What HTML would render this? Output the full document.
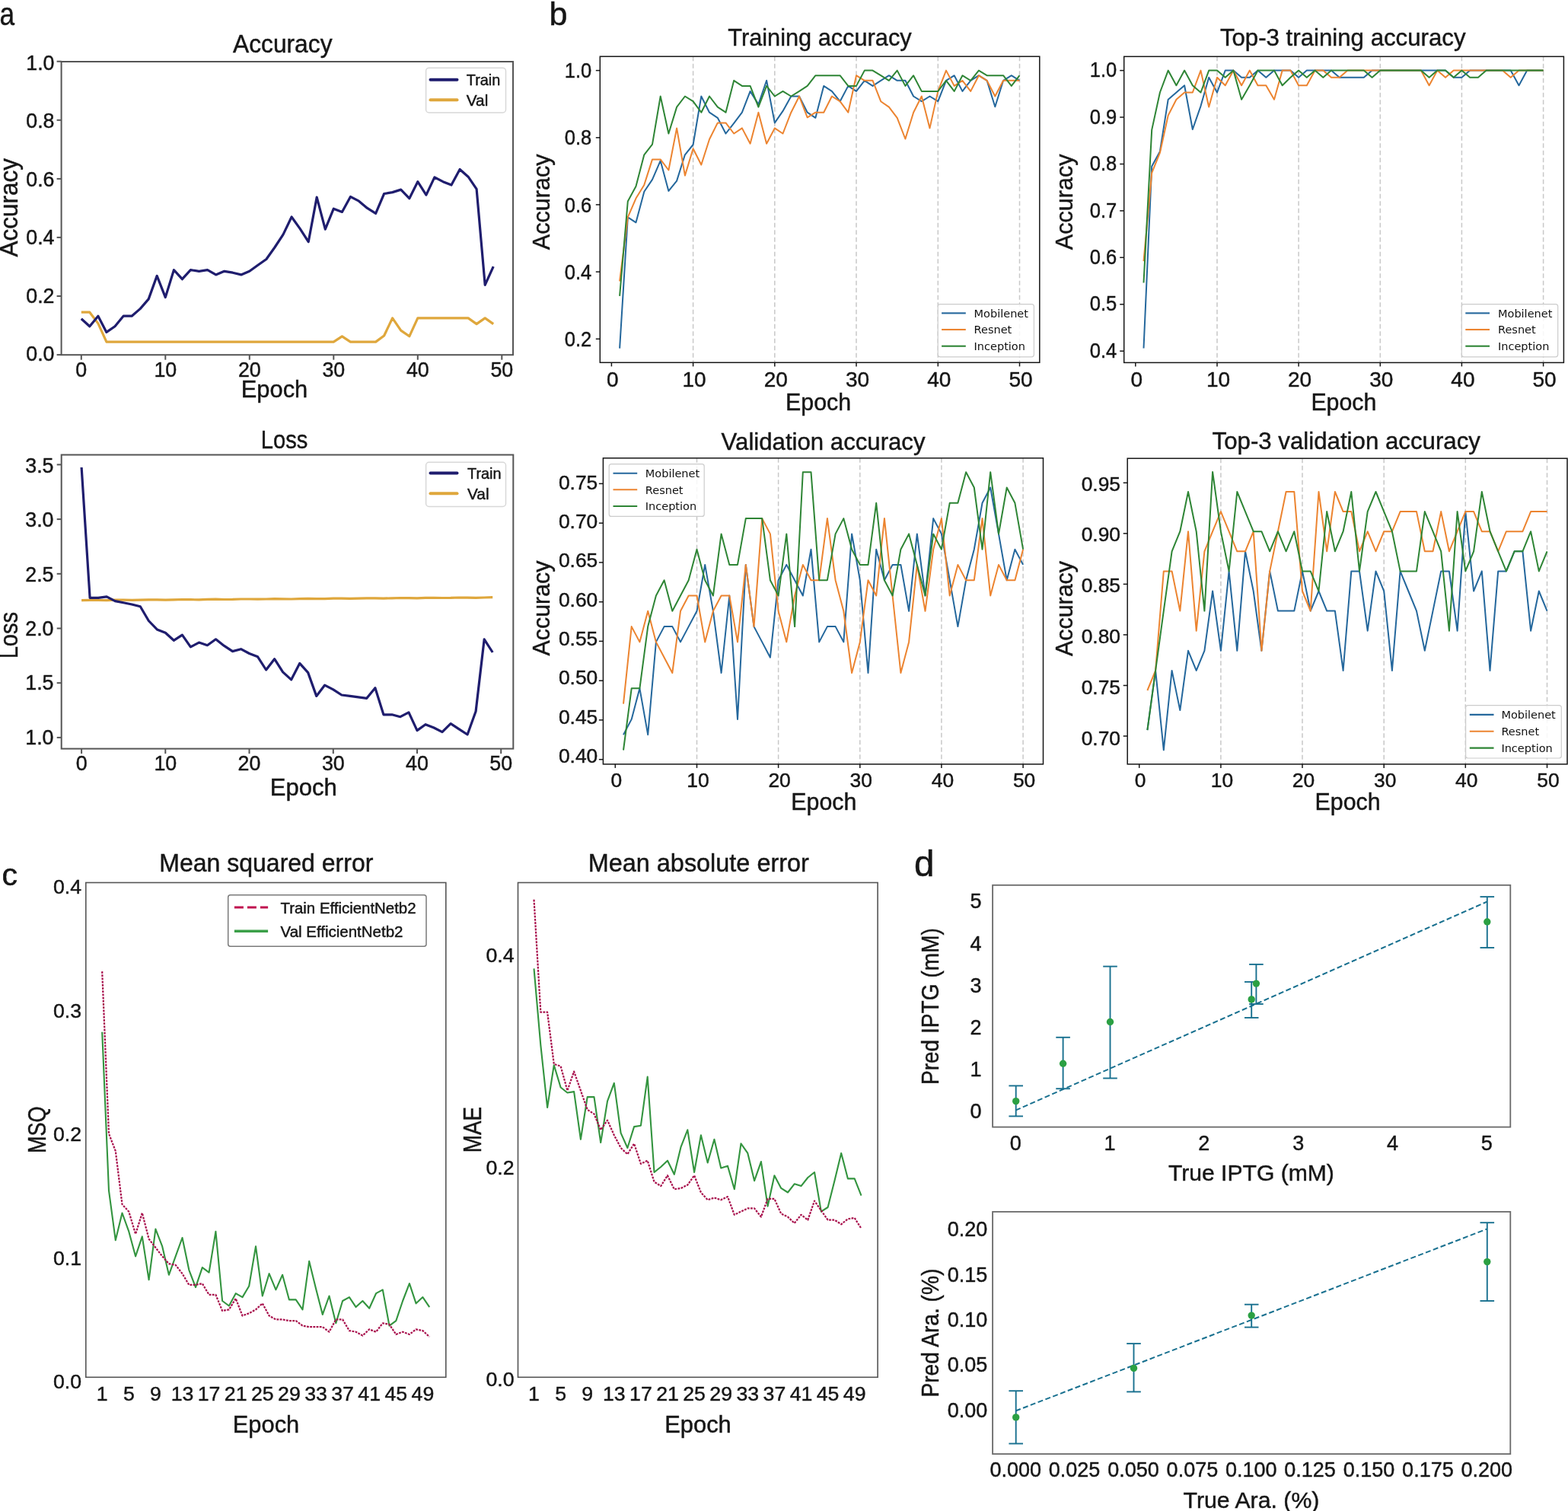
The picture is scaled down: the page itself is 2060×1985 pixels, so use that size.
<!DOCTYPE html>
<html><head><meta charset="utf-8"><title>Figure</title>
<style>html,body{margin:0;padding:0;background:#fff;overflow:hidden;} svg{display:block;}</style>
</head><body>
<svg width="2060" height="1985" viewBox="0 0 2060 1985" font-family="'Liberation Sans', Arial, sans-serif">
<rect width="2060" height="1985" fill="#fff"/>
<text x="-0.5" y="32.9" font-size="43.00" text-anchor="start" fill="#161616" stroke="#161616" stroke-width="0.45" textLength="19.6" lengthAdjust="spacingAndGlyphs">a</text>
<polyline points="106.8,410.2 117.8,410.2 128.9,424.9 139.9,449.1 151.0,449.1 162.1,449.1 173.1,449.1 184.2,449.1 195.2,449.1 206.2,449.1 217.3,449.1 228.4,449.1 239.4,449.1 250.4,449.1 261.5,449.1 272.6,449.1 283.6,449.1 294.7,449.1 305.7,449.1 316.8,449.1 327.8,449.1 338.9,449.1 349.9,449.1 360.9,449.1 372.0,449.1 383.1,449.1 394.1,449.1 405.2,449.1 416.2,449.1 427.3,449.1 438.3,449.1 449.4,441.8 460.4,449.1 471.5,449.1 482.5,449.1 493.6,449.1 504.6,441.0 515.6,417.9 526.7,434.1 537.8,441.8 548.8,417.9 559.9,417.9 570.9,417.9 582.0,417.9 593.0,417.9 604.1,417.9 615.1,417.9 626.1,425.6 637.2,417.9 648.2,425.6" fill="none" stroke="#dfa73c" stroke-width="3.2" stroke-linejoin="round" stroke-linecap="butt"/>
<polyline points="106.8,418.7 117.8,428.7 128.9,415.2 139.9,436.4 151.0,428.7 162.1,415.2 173.1,415.2 184.2,405.6 195.2,392.9 206.2,362.4 217.3,390.6 228.4,354.7 239.4,366.7 250.4,354.7 261.5,356.3 272.6,354.7 283.6,360.9 294.7,356.3 305.7,358.2 316.8,360.9 327.8,356.3 338.9,348.2 349.9,340.5 360.9,325.0 372.0,308.1 383.1,285.0 394.1,300.4 405.2,317.7 416.2,259.1 427.3,301.1 438.3,274.2 449.4,278.4 460.4,258.4 471.5,264.2 482.5,273.4 493.6,280.3 504.6,254.5 515.6,252.6 526.7,249.1 537.8,260.7 548.8,238.7 559.9,256.1 570.9,232.9 582.0,238.7 593.0,243.0 604.1,222.5 615.1,232.2 626.1,248.3 637.2,374.4 648.2,350.1" fill="none" stroke="#1f1d6e" stroke-width="3.2" stroke-linejoin="round" stroke-linecap="butt"/>
<rect x="80.6" y="81.0" width="593.4" height="385.2" fill="none" stroke="#555555" stroke-width="2"/>
<line x1="106.8" y1="466.2" x2="106.8" y2="472.7" stroke="#555555" stroke-width="2"/>
<line x1="217.3" y1="466.2" x2="217.3" y2="472.7" stroke="#555555" stroke-width="2"/>
<line x1="327.8" y1="466.2" x2="327.8" y2="472.7" stroke="#555555" stroke-width="2"/>
<line x1="438.3" y1="466.2" x2="438.3" y2="472.7" stroke="#555555" stroke-width="2"/>
<line x1="548.8" y1="466.2" x2="548.8" y2="472.7" stroke="#555555" stroke-width="2"/>
<line x1="659.3" y1="466.2" x2="659.3" y2="472.7" stroke="#555555" stroke-width="2"/>
<line x1="74.6" y1="466.1" x2="80.6" y2="466.1" stroke="#555555" stroke-width="2"/>
<line x1="74.6" y1="389.0" x2="80.6" y2="389.0" stroke="#555555" stroke-width="2"/>
<line x1="74.6" y1="311.9" x2="80.6" y2="311.9" stroke="#555555" stroke-width="2"/>
<line x1="74.6" y1="234.9" x2="80.6" y2="234.9" stroke="#555555" stroke-width="2"/>
<line x1="74.6" y1="157.8" x2="80.6" y2="157.8" stroke="#555555" stroke-width="2"/>
<line x1="74.6" y1="80.7" x2="80.6" y2="80.7" stroke="#555555" stroke-width="2"/>
<text x="106.8" y="494.6" font-size="26.80" text-anchor="middle" fill="#161616" stroke="#161616" stroke-width="0.45">0</text>
<text x="217.3" y="494.6" font-size="26.80" text-anchor="middle" fill="#161616" stroke="#161616" stroke-width="0.45">10</text>
<text x="327.8" y="494.6" font-size="26.80" text-anchor="middle" fill="#161616" stroke="#161616" stroke-width="0.45">20</text>
<text x="438.3" y="494.6" font-size="26.80" text-anchor="middle" fill="#161616" stroke="#161616" stroke-width="0.45">30</text>
<text x="548.8" y="494.6" font-size="26.80" text-anchor="middle" fill="#161616" stroke="#161616" stroke-width="0.45">40</text>
<text x="659.3" y="494.6" font-size="26.80" text-anchor="middle" fill="#161616" stroke="#161616" stroke-width="0.45">50</text>
<text x="71.5" y="474.0" font-size="26.80" text-anchor="end" fill="#161616" stroke="#161616" stroke-width="0.45">0.0</text>
<text x="71.5" y="397.6" font-size="26.80" text-anchor="end" fill="#161616" stroke="#161616" stroke-width="0.45">0.2</text>
<text x="71.5" y="321.2" font-size="26.80" text-anchor="end" fill="#161616" stroke="#161616" stroke-width="0.45">0.4</text>
<text x="71.5" y="244.8" font-size="26.80" text-anchor="end" fill="#161616" stroke="#161616" stroke-width="0.45">0.6</text>
<text x="71.5" y="168.4" font-size="26.80" text-anchor="end" fill="#161616" stroke="#161616" stroke-width="0.45">0.8</text>
<text x="71.5" y="92.0" font-size="26.80" text-anchor="end" fill="#161616" stroke="#161616" stroke-width="0.45">1.0</text>
<text x="306.0" y="69.0" font-size="32.50" text-anchor="start" fill="#161616" stroke="#161616" stroke-width="0.45" textLength="130.5" lengthAdjust="spacingAndGlyphs">Accuracy</text>
<text x="22.9" y="272.7" font-size="32.50" text-anchor="middle" fill="#161616" stroke="#161616" stroke-width="0.45" textLength="129.5" lengthAdjust="spacingAndGlyphs" transform="rotate(-90 22.9 272.7)">Accuracy</text>
<text x="360.5" y="522.1" font-size="31.00" text-anchor="middle" fill="#161616" stroke="#161616" stroke-width="0.45" textLength="87.5" lengthAdjust="spacingAndGlyphs">Epoch</text>
<rect x="559.6" y="89.2" width="104.9" height="58.8" rx="4" fill="#fff" fill-opacity="0.85" stroke="#d8d8d8" stroke-width="1.5"/>
<line x1="565.5" y1="104.7" x2="600.5" y2="104.7" stroke="#1f1d6e" stroke-width="4" stroke-linecap="round"/>
<line x1="565.5" y1="131.2" x2="600.5" y2="131.2" stroke="#dfa73c" stroke-width="4" stroke-linecap="round"/>
<text x="612.8" y="112.0" font-size="20.30" text-anchor="start" fill="#161616" stroke="#161616" stroke-width="0.45" textLength="44.5" lengthAdjust="spacingAndGlyphs">Train</text>
<text x="612.8" y="138.8" font-size="20.30" text-anchor="start" fill="#161616" stroke="#161616" stroke-width="0.45" textLength="28.5" lengthAdjust="spacingAndGlyphs">Val</text>
<polyline points="107.1,788.6 118.1,788.4 129.1,788.5 140.2,788.6 151.2,788.2 162.2,788.1 173.2,788.3 184.3,788.2 195.3,787.9 206.3,787.9 217.3,788.1 228.3,787.8 239.4,787.5 250.4,787.7 261.4,787.8 272.4,787.4 283.5,787.2 294.5,787.5 305.5,787.4 316.5,787.0 327.5,787.0 338.6,787.2 349.6,787.0 360.6,786.7 371.6,786.8 382.6,787.0 393.7,786.6 404.7,786.4 415.7,786.6 426.7,786.6 437.8,786.2 448.8,786.1 459.8,786.4 470.8,786.2 481.8,785.9 492.9,785.9 503.9,786.1 514.9,785.8 525.9,785.5 537.0,785.7 548.0,785.8 559.0,785.4 570.0,785.3 581.0,785.5 592.1,785.4 603.1,785.0 614.1,785.1 625.1,785.3 636.2,785.0 647.2,784.7" fill="none" stroke="#dfa73c" stroke-width="3.2" stroke-linejoin="round" stroke-linecap="butt"/>
<polyline points="107.1,614.0 118.1,785.3 129.1,785.3 140.2,783.9 151.2,789.6 162.2,791.8 173.2,794.0 184.3,796.8 195.3,815.5 206.3,826.9 217.3,831.2 228.3,841.3 239.4,834.1 250.4,849.9 261.4,844.1 272.4,847.7 283.5,839.8 294.5,848.4 305.5,855.6 316.5,852.7 327.5,858.5 338.6,862.8 349.6,880.0 360.6,865.7 371.6,882.9 382.6,892.9 393.7,871.4 404.7,883.6 415.7,914.4 426.7,900.1 437.8,905.8 448.8,913.0 459.8,914.4 470.8,915.8 481.8,917.3 492.9,903.7 503.9,938.8 514.9,938.8 525.9,941.7 537.0,935.9 548.0,959.6 559.0,951.7 570.0,956.0 581.0,961.7 592.1,950.7 603.1,957.9 614.1,965.0 625.1,934.5 636.2,839.8 647.2,857.0" fill="none" stroke="#1f1d6e" stroke-width="3.2" stroke-linejoin="round" stroke-linecap="butt"/>
<rect x="80.7" y="597.5" width="593.6" height="386.1" fill="none" stroke="#555555" stroke-width="2"/>
<line x1="107.1" y1="983.6" x2="107.1" y2="990.1" stroke="#555555" stroke-width="2"/>
<line x1="217.3" y1="983.6" x2="217.3" y2="990.1" stroke="#555555" stroke-width="2"/>
<line x1="327.5" y1="983.6" x2="327.5" y2="990.1" stroke="#555555" stroke-width="2"/>
<line x1="437.8" y1="983.6" x2="437.8" y2="990.1" stroke="#555555" stroke-width="2"/>
<line x1="548.0" y1="983.6" x2="548.0" y2="990.1" stroke="#555555" stroke-width="2"/>
<line x1="658.2" y1="983.6" x2="658.2" y2="990.1" stroke="#555555" stroke-width="2"/>
<line x1="74.7" y1="968.9" x2="80.7" y2="968.9" stroke="#555555" stroke-width="2"/>
<line x1="74.7" y1="897.2" x2="80.7" y2="897.2" stroke="#555555" stroke-width="2"/>
<line x1="74.7" y1="825.5" x2="80.7" y2="825.5" stroke="#555555" stroke-width="2"/>
<line x1="74.7" y1="753.8" x2="80.7" y2="753.8" stroke="#555555" stroke-width="2"/>
<line x1="74.7" y1="682.1" x2="80.7" y2="682.1" stroke="#555555" stroke-width="2"/>
<line x1="74.7" y1="610.4" x2="80.7" y2="610.4" stroke="#555555" stroke-width="2"/>
<text x="107.1" y="1012.2" font-size="26.80" text-anchor="middle" fill="#161616" stroke="#161616" stroke-width="0.45">0</text>
<text x="217.3" y="1012.2" font-size="26.80" text-anchor="middle" fill="#161616" stroke="#161616" stroke-width="0.45">10</text>
<text x="327.5" y="1012.2" font-size="26.80" text-anchor="middle" fill="#161616" stroke="#161616" stroke-width="0.45">20</text>
<text x="437.8" y="1012.2" font-size="26.80" text-anchor="middle" fill="#161616" stroke="#161616" stroke-width="0.45">30</text>
<text x="548.0" y="1012.2" font-size="26.80" text-anchor="middle" fill="#161616" stroke="#161616" stroke-width="0.45">40</text>
<text x="658.2" y="1012.2" font-size="26.80" text-anchor="middle" fill="#161616" stroke="#161616" stroke-width="0.45">50</text>
<text x="70.5" y="977.6" font-size="26.80" text-anchor="end" fill="#161616" stroke="#161616" stroke-width="0.45">1.0</text>
<text x="70.5" y="906.2" font-size="26.80" text-anchor="end" fill="#161616" stroke="#161616" stroke-width="0.45">1.5</text>
<text x="70.5" y="834.9" font-size="26.80" text-anchor="end" fill="#161616" stroke="#161616" stroke-width="0.45">2.0</text>
<text x="70.5" y="763.6" font-size="26.80" text-anchor="end" fill="#161616" stroke="#161616" stroke-width="0.45">2.5</text>
<text x="70.5" y="692.2" font-size="26.80" text-anchor="end" fill="#161616" stroke="#161616" stroke-width="0.45">3.0</text>
<text x="70.5" y="620.9" font-size="26.80" text-anchor="end" fill="#161616" stroke="#161616" stroke-width="0.45">3.5</text>
<text x="373.5" y="588.8" font-size="32.50" text-anchor="middle" fill="#161616" stroke="#161616" stroke-width="0.45" textLength="61.5" lengthAdjust="spacingAndGlyphs">Loss</text>
<text x="22.9" y="834.6" font-size="32.50" text-anchor="middle" fill="#161616" stroke="#161616" stroke-width="0.45" textLength="61.5" lengthAdjust="spacingAndGlyphs" transform="rotate(-90 22.9 834.6)">Loss</text>
<text x="398.7" y="1044.6" font-size="31.00" text-anchor="middle" fill="#161616" stroke="#161616" stroke-width="0.45" textLength="88.0" lengthAdjust="spacingAndGlyphs">Epoch</text>
<rect x="559.6" y="607.3" width="104.9" height="58.2" rx="4" fill="#fff" fill-opacity="0.85" stroke="#d8d8d8" stroke-width="1.5"/>
<line x1="565.5" y1="621.6" x2="600.5" y2="621.6" stroke="#1f1d6e" stroke-width="4" stroke-linecap="round"/>
<line x1="565.5" y1="648.3" x2="600.5" y2="648.3" stroke="#dfa73c" stroke-width="4" stroke-linecap="round"/>
<text x="614.0" y="628.8" font-size="20.30" text-anchor="start" fill="#161616" stroke="#161616" stroke-width="0.45" textLength="44.5" lengthAdjust="spacingAndGlyphs">Train</text>
<text x="614.0" y="655.8" font-size="20.30" text-anchor="start" fill="#161616" stroke="#161616" stroke-width="0.45" textLength="28.5" lengthAdjust="spacingAndGlyphs">Val</text>
<text x="721.5" y="32.9" font-size="43.00" text-anchor="start" fill="#161616" stroke="#161616" stroke-width="0.45">b</text>
<line x1="910.6" y1="74.2" x2="910.6" y2="476.4" stroke="#c8c8c8" stroke-width="1.5" stroke-dasharray="6,3.5"/>
<line x1="1017.8" y1="74.2" x2="1017.8" y2="476.4" stroke="#c8c8c8" stroke-width="1.5" stroke-dasharray="6,3.5"/>
<line x1="1125.0" y1="74.2" x2="1125.0" y2="476.4" stroke="#c8c8c8" stroke-width="1.5" stroke-dasharray="6,3.5"/>
<line x1="1232.3" y1="74.2" x2="1232.3" y2="476.4" stroke="#c8c8c8" stroke-width="1.5" stroke-dasharray="6,3.5"/>
<line x1="1339.5" y1="74.2" x2="1339.5" y2="476.4" stroke="#c8c8c8" stroke-width="1.5" stroke-dasharray="6,3.5"/>
<polyline points="814.1,457.6 824.8,285.3 835.5,292.3 846.3,251.8 857.0,235.9 867.7,211.2 878.4,250.9 889.1,237.6 899.9,203.3 910.6,190.0 921.3,126.5 932.0,147.7 942.8,154.8 953.5,175.5 964.2,161.8 974.9,147.7 985.6,119.9 996.4,137.1 1007.1,105.8 1017.8,161.4 1028.5,145.9 1039.3,126.5 1050.0,126.5 1060.7,147.7 1071.4,154.8 1082.2,112.9 1092.9,119.9 1103.6,133.2 1114.3,112.9 1125.0,119.9 1135.8,105.8 1146.5,112.9 1157.2,105.8 1167.9,99.2 1178.7,105.8 1189.4,105.8 1200.1,126.5 1210.8,133.2 1221.5,126.5 1232.3,133.2 1243.0,105.8 1253.7,99.2 1264.4,119.9 1275.2,105.8 1285.9,99.2 1296.6,105.8 1307.3,140.2 1318.1,105.8 1328.8,99.2 1339.5,105.8" fill="none" stroke="#24679c" stroke-width="2.0" stroke-linejoin="round" stroke-linecap="butt"/>
<polyline points="814.1,369.5 824.8,285.3 835.5,260.6 846.3,242.9 857.0,209.4 867.7,209.4 878.4,223.5 889.1,168.4 899.9,230.6 910.6,195.3 921.3,216.5 932.0,183.0 942.8,161.4 953.5,161.4 964.2,175.5 974.9,168.4 985.6,188.7 996.4,147.7 1007.1,188.7 1017.8,168.4 1028.5,175.5 1039.3,147.7 1050.0,126.5 1060.7,154.3 1071.4,147.7 1082.2,147.7 1092.9,126.5 1103.6,133.2 1114.3,147.7 1125.0,99.2 1135.8,105.8 1146.5,105.8 1157.2,133.2 1167.9,140.6 1178.7,154.8 1189.4,182.5 1200.1,147.7 1210.8,126.5 1221.5,168.4 1232.3,119.9 1243.0,92.6 1253.7,112.9 1264.4,105.8 1275.2,119.9 1285.9,99.2 1296.6,105.8 1307.3,126.5 1318.1,105.8 1328.8,105.8 1339.5,105.8" fill="none" stroke="#ec8430" stroke-width="2.0" stroke-linejoin="round" stroke-linecap="butt"/>
<polyline points="814.1,388.9 824.8,264.5 835.5,244.7 846.3,203.3 857.0,189.6 867.7,126.5 878.4,175.5 889.1,140.6 899.9,126.5 910.6,133.2 921.3,147.7 932.0,126.5 942.8,140.6 953.5,147.7 964.2,105.8 974.9,112.9 985.6,112.9 996.4,140.6 1007.1,112.9 1017.8,126.5 1028.5,119.9 1039.3,126.5 1050.0,119.9 1060.7,112.9 1071.4,99.2 1082.2,99.2 1092.9,99.2 1103.6,99.2 1114.3,112.9 1125.0,112.9 1135.8,92.6 1146.5,92.6 1157.2,99.2 1167.9,105.8 1178.7,92.6 1189.4,112.9 1200.1,99.2 1210.8,119.9 1221.5,119.9 1232.3,119.9 1243.0,105.8 1253.7,119.9 1264.4,99.2 1275.2,105.8 1285.9,92.6 1296.6,99.2 1307.3,99.2 1318.1,99.2 1328.8,112.9 1339.5,99.2" fill="none" stroke="#2e8535" stroke-width="2.0" stroke-linejoin="round" stroke-linecap="butt"/>
<rect x="1232.2" y="399.6" width="126.2" height="69.2" rx="3" fill="#fff" fill-opacity="0.85" stroke="#cccccc" stroke-width="1.2"/>
<line x1="1237.1" y1="411.4" x2="1268.8" y2="411.4" stroke="#24679c" stroke-width="2.1"/>
<text x="1279.6" y="416.7" font-size="14.50" text-anchor="start" fill="#111" style="font-family:'DejaVu Sans', 'Liberation Sans', sans-serif">Mobilenet</text>
<line x1="1237.1" y1="433.0" x2="1268.8" y2="433.0" stroke="#ec8430" stroke-width="2.1"/>
<text x="1279.6" y="438.3" font-size="14.50" text-anchor="start" fill="#111" style="font-family:'DejaVu Sans', 'Liberation Sans', sans-serif">Resnet</text>
<line x1="1237.1" y1="454.7" x2="1268.8" y2="454.7" stroke="#2e8535" stroke-width="2.1"/>
<text x="1279.6" y="460.0" font-size="14.50" text-anchor="start" fill="#111" style="font-family:'DejaVu Sans', 'Liberation Sans', sans-serif">Inception</text>
<rect x="788.3" y="74.2" width="577.5" height="402.1" fill="none" stroke="#161616" stroke-width="1.5"/>
<line x1="803.4" y1="476.4" x2="803.4" y2="481.4" stroke="#161616" stroke-width="1.5"/>
<line x1="910.6" y1="476.4" x2="910.6" y2="481.4" stroke="#161616" stroke-width="1.5"/>
<line x1="1017.8" y1="476.4" x2="1017.8" y2="481.4" stroke="#161616" stroke-width="1.5"/>
<line x1="1125.0" y1="476.4" x2="1125.0" y2="481.4" stroke="#161616" stroke-width="1.5"/>
<line x1="1232.3" y1="476.4" x2="1232.3" y2="481.4" stroke="#161616" stroke-width="1.5"/>
<line x1="1339.5" y1="476.4" x2="1339.5" y2="481.4" stroke="#161616" stroke-width="1.5"/>
<line x1="782.8" y1="445.3" x2="788.3" y2="445.3" stroke="#161616" stroke-width="1.5"/>
<line x1="782.8" y1="357.1" x2="788.3" y2="357.1" stroke="#161616" stroke-width="1.5"/>
<line x1="782.8" y1="268.9" x2="788.3" y2="268.9" stroke="#161616" stroke-width="1.5"/>
<line x1="782.8" y1="180.8" x2="788.3" y2="180.8" stroke="#161616" stroke-width="1.5"/>
<line x1="782.8" y1="92.6" x2="788.3" y2="92.6" stroke="#161616" stroke-width="1.5"/>
<text x="804.9" y="508.3" font-size="28.00" text-anchor="middle" fill="#161616" stroke="#161616" stroke-width="0.45">0</text>
<text x="912.1" y="508.3" font-size="28.00" text-anchor="middle" fill="#161616" stroke="#161616" stroke-width="0.45">10</text>
<text x="1019.3" y="508.3" font-size="28.00" text-anchor="middle" fill="#161616" stroke="#161616" stroke-width="0.45">20</text>
<text x="1126.5" y="508.3" font-size="28.00" text-anchor="middle" fill="#161616" stroke="#161616" stroke-width="0.45">30</text>
<text x="1233.8" y="508.3" font-size="28.00" text-anchor="middle" fill="#161616" stroke="#161616" stroke-width="0.45">40</text>
<text x="1341.0" y="508.3" font-size="28.00" text-anchor="middle" fill="#161616" stroke="#161616" stroke-width="0.45">50</text>
<text x="777.3" y="454.7" font-size="27.50" text-anchor="end" fill="#161616" stroke="#161616" stroke-width="0.45" textLength="35.5" lengthAdjust="spacingAndGlyphs">0.2</text>
<text x="777.3" y="366.6" font-size="27.50" text-anchor="end" fill="#161616" stroke="#161616" stroke-width="0.45" textLength="35.5" lengthAdjust="spacingAndGlyphs">0.4</text>
<text x="777.3" y="278.5" font-size="27.50" text-anchor="end" fill="#161616" stroke="#161616" stroke-width="0.45" textLength="35.5" lengthAdjust="spacingAndGlyphs">0.6</text>
<text x="777.3" y="190.4" font-size="27.50" text-anchor="end" fill="#161616" stroke="#161616" stroke-width="0.45" textLength="35.5" lengthAdjust="spacingAndGlyphs">0.8</text>
<text x="777.3" y="102.2" font-size="27.50" text-anchor="end" fill="#161616" stroke="#161616" stroke-width="0.45" textLength="35.5" lengthAdjust="spacingAndGlyphs">1.0</text>
<text x="956.3" y="60.1" font-size="32.00" text-anchor="start" fill="#161616" stroke="#161616" stroke-width="0.45" textLength="241.3" lengthAdjust="spacingAndGlyphs">Training accuracy</text>
<text x="721.8" y="265.3" font-size="32.00" text-anchor="middle" fill="#161616" stroke="#161616" stroke-width="0.45" textLength="125.7" lengthAdjust="spacingAndGlyphs" transform="rotate(-90 721.8 265.3)">Accuracy</text>
<text x="1075.1" y="538.6" font-size="30.50" text-anchor="middle" fill="#161616" stroke="#161616" stroke-width="0.45" textLength="86.0" lengthAdjust="spacingAndGlyphs">Epoch</text>
<line x1="1599.0" y1="74.3" x2="1599.0" y2="476.4" stroke="#c8c8c8" stroke-width="1.5" stroke-dasharray="6,3.5"/>
<line x1="1706.1" y1="74.3" x2="1706.1" y2="476.4" stroke="#c8c8c8" stroke-width="1.5" stroke-dasharray="6,3.5"/>
<line x1="1813.3" y1="74.3" x2="1813.3" y2="476.4" stroke="#c8c8c8" stroke-width="1.5" stroke-dasharray="6,3.5"/>
<line x1="1920.4" y1="74.3" x2="1920.4" y2="476.4" stroke="#c8c8c8" stroke-width="1.5" stroke-dasharray="6,3.5"/>
<line x1="2027.6" y1="74.3" x2="2027.6" y2="476.4" stroke="#c8c8c8" stroke-width="1.5" stroke-dasharray="6,3.5"/>
<polyline points="1502.5,457.5 1513.2,218.5 1523.9,198.9 1534.7,130.7 1545.4,121.5 1556.1,112.2 1566.8,170.0 1577.5,139.3 1588.2,101.8 1599.0,121.5 1609.7,92.6 1620.4,92.6 1631.1,101.8 1641.8,101.8 1652.5,92.6 1663.3,101.8 1674.0,92.6 1684.7,92.6 1695.4,92.6 1706.1,101.8 1716.8,92.6 1727.6,92.6 1738.3,92.6 1749.0,92.6 1759.7,101.8 1770.4,101.8 1781.1,101.8 1791.8,101.8 1802.6,92.6 1813.3,92.6 1824.0,92.6 1834.7,92.6 1845.4,92.6 1856.1,92.6 1866.9,92.6 1877.6,92.6 1888.3,92.6 1899.0,92.6 1909.7,101.8 1920.4,101.8 1931.2,92.6 1941.9,92.6 1952.6,92.6 1963.3,92.6 1974.0,92.6 1984.7,92.6 1995.5,112.2 2006.2,92.6 2016.9,92.6 2027.6,92.6" fill="none" stroke="#24679c" stroke-width="2.0" stroke-linejoin="round" stroke-linecap="butt"/>
<polyline points="1502.5,343.2 1513.2,227.1 1523.9,200.7 1534.7,151.6 1545.4,130.7 1556.1,121.5 1566.8,121.5 1577.5,92.6 1588.2,140.5 1599.0,101.8 1609.7,112.2 1620.4,92.6 1631.1,112.2 1641.8,92.6 1652.5,112.2 1663.3,112.2 1674.0,130.7 1684.7,92.6 1695.4,92.6 1706.1,112.2 1716.8,112.2 1727.6,92.6 1738.3,92.6 1749.0,101.8 1759.7,101.8 1770.4,92.6 1781.1,92.6 1791.8,92.6 1802.6,92.6 1813.3,92.6 1824.0,92.6 1834.7,92.6 1845.4,92.6 1856.1,92.6 1866.9,92.6 1877.6,112.2 1888.3,92.6 1899.0,101.8 1909.7,92.6 1920.4,92.6 1931.2,92.6 1941.9,92.6 1952.6,92.6 1963.3,92.6 1974.0,92.6 1984.7,101.8 1995.5,92.6 2006.2,92.6 2016.9,92.6 2027.6,92.6" fill="none" stroke="#ec8430" stroke-width="2.0" stroke-linejoin="round" stroke-linecap="butt"/>
<polyline points="1502.5,371.5 1513.2,170.6 1523.9,121.5 1534.7,92.6 1545.4,112.2 1556.1,92.6 1566.8,112.2 1577.5,121.5 1588.2,92.6 1599.0,92.6 1609.7,101.8 1620.4,92.6 1631.1,130.7 1641.8,112.2 1652.5,92.6 1663.3,92.6 1674.0,92.6 1684.7,112.2 1695.4,101.8 1706.1,92.6 1716.8,101.8 1727.6,92.6 1738.3,101.8 1749.0,92.6 1759.7,92.6 1770.4,92.6 1781.1,92.6 1791.8,92.6 1802.6,101.8 1813.3,92.6 1824.0,92.6 1834.7,92.6 1845.4,92.6 1856.1,92.6 1866.9,92.6 1877.6,101.8 1888.3,92.6 1899.0,92.6 1909.7,101.8 1920.4,92.6 1931.2,101.8 1941.9,101.8 1952.6,92.6 1963.3,92.6 1974.0,92.6 1984.7,92.6 1995.5,92.6 2006.2,92.6 2016.9,92.6 2027.6,92.6" fill="none" stroke="#2e8535" stroke-width="2.0" stroke-linejoin="round" stroke-linecap="butt"/>
<rect x="1920.3" y="399.6" width="126.4" height="69.2" rx="3" fill="#fff" fill-opacity="0.85" stroke="#cccccc" stroke-width="1.2"/>
<line x1="1925.3" y1="411.4" x2="1957.0" y2="411.4" stroke="#24679c" stroke-width="2.1"/>
<text x="1968.0" y="416.7" font-size="14.50" text-anchor="start" fill="#111" style="font-family:'DejaVu Sans', 'Liberation Sans', sans-serif">Mobilenet</text>
<line x1="1925.3" y1="433.0" x2="1957.0" y2="433.0" stroke="#ec8430" stroke-width="2.1"/>
<text x="1968.0" y="438.3" font-size="14.50" text-anchor="start" fill="#111" style="font-family:'DejaVu Sans', 'Liberation Sans', sans-serif">Resnet</text>
<line x1="1925.3" y1="454.7" x2="1957.0" y2="454.7" stroke="#2e8535" stroke-width="2.1"/>
<text x="1968.0" y="460.0" font-size="14.50" text-anchor="start" fill="#111" style="font-family:'DejaVu Sans', 'Liberation Sans', sans-serif">Inception</text>
<rect x="1476.7" y="74.3" width="577.7" height="402.1" fill="none" stroke="#161616" stroke-width="1.5"/>
<line x1="1491.8" y1="476.4" x2="1491.8" y2="481.4" stroke="#161616" stroke-width="1.5"/>
<line x1="1599.0" y1="476.4" x2="1599.0" y2="481.4" stroke="#161616" stroke-width="1.5"/>
<line x1="1706.1" y1="476.4" x2="1706.1" y2="481.4" stroke="#161616" stroke-width="1.5"/>
<line x1="1813.3" y1="476.4" x2="1813.3" y2="481.4" stroke="#161616" stroke-width="1.5"/>
<line x1="1920.4" y1="476.4" x2="1920.4" y2="481.4" stroke="#161616" stroke-width="1.5"/>
<line x1="2027.6" y1="476.4" x2="2027.6" y2="481.4" stroke="#161616" stroke-width="1.5"/>
<line x1="1471.2" y1="461.2" x2="1476.7" y2="461.2" stroke="#161616" stroke-width="1.5"/>
<line x1="1471.2" y1="399.8" x2="1476.7" y2="399.8" stroke="#161616" stroke-width="1.5"/>
<line x1="1471.2" y1="338.3" x2="1476.7" y2="338.3" stroke="#161616" stroke-width="1.5"/>
<line x1="1471.2" y1="276.9" x2="1476.7" y2="276.9" stroke="#161616" stroke-width="1.5"/>
<line x1="1471.2" y1="215.5" x2="1476.7" y2="215.5" stroke="#161616" stroke-width="1.5"/>
<line x1="1471.2" y1="154.0" x2="1476.7" y2="154.0" stroke="#161616" stroke-width="1.5"/>
<line x1="1471.2" y1="92.6" x2="1476.7" y2="92.6" stroke="#161616" stroke-width="1.5"/>
<text x="1493.3" y="508.3" font-size="28.00" text-anchor="middle" fill="#161616" stroke="#161616" stroke-width="0.45">0</text>
<text x="1600.5" y="508.3" font-size="28.00" text-anchor="middle" fill="#161616" stroke="#161616" stroke-width="0.45">10</text>
<text x="1707.6" y="508.3" font-size="28.00" text-anchor="middle" fill="#161616" stroke="#161616" stroke-width="0.45">20</text>
<text x="1814.8" y="508.3" font-size="28.00" text-anchor="middle" fill="#161616" stroke="#161616" stroke-width="0.45">30</text>
<text x="1921.9" y="508.3" font-size="28.00" text-anchor="middle" fill="#161616" stroke="#161616" stroke-width="0.45">40</text>
<text x="2029.1" y="508.3" font-size="28.00" text-anchor="middle" fill="#161616" stroke="#161616" stroke-width="0.45">50</text>
<text x="1467.3" y="469.8" font-size="27.50" text-anchor="end" fill="#161616" stroke="#161616" stroke-width="0.45" textLength="35.5" lengthAdjust="spacingAndGlyphs">0.4</text>
<text x="1467.3" y="408.4" font-size="27.50" text-anchor="end" fill="#161616" stroke="#161616" stroke-width="0.45" textLength="35.5" lengthAdjust="spacingAndGlyphs">0.5</text>
<text x="1467.3" y="346.9" font-size="27.50" text-anchor="end" fill="#161616" stroke="#161616" stroke-width="0.45" textLength="35.5" lengthAdjust="spacingAndGlyphs">0.6</text>
<text x="1467.3" y="285.5" font-size="27.50" text-anchor="end" fill="#161616" stroke="#161616" stroke-width="0.45" textLength="35.5" lengthAdjust="spacingAndGlyphs">0.7</text>
<text x="1467.3" y="224.0" font-size="27.50" text-anchor="end" fill="#161616" stroke="#161616" stroke-width="0.45" textLength="35.5" lengthAdjust="spacingAndGlyphs">0.8</text>
<text x="1467.3" y="162.6" font-size="27.50" text-anchor="end" fill="#161616" stroke="#161616" stroke-width="0.45" textLength="35.5" lengthAdjust="spacingAndGlyphs">0.9</text>
<text x="1467.3" y="101.1" font-size="27.50" text-anchor="end" fill="#161616" stroke="#161616" stroke-width="0.45" textLength="35.5" lengthAdjust="spacingAndGlyphs">1.0</text>
<text x="1602.9" y="60.3" font-size="32.00" text-anchor="start" fill="#161616" stroke="#161616" stroke-width="0.45" textLength="322.6" lengthAdjust="spacingAndGlyphs">Top-3 training accuracy</text>
<text x="1408.8" y="265.3" font-size="32.00" text-anchor="middle" fill="#161616" stroke="#161616" stroke-width="0.45" textLength="125.7" lengthAdjust="spacingAndGlyphs" transform="rotate(-90 1408.8 265.3)">Accuracy</text>
<text x="1765.4" y="538.6" font-size="30.50" text-anchor="middle" fill="#161616" stroke="#161616" stroke-width="0.45" textLength="86.0" lengthAdjust="spacingAndGlyphs">Epoch</text>
<line x1="915.5" y1="601.8" x2="915.5" y2="1003.9" stroke="#c8c8c8" stroke-width="1.5" stroke-dasharray="6,3.5"/>
<line x1="1022.6" y1="601.8" x2="1022.6" y2="1003.9" stroke="#c8c8c8" stroke-width="1.5" stroke-dasharray="6,3.5"/>
<line x1="1129.8" y1="601.8" x2="1129.8" y2="1003.9" stroke="#c8c8c8" stroke-width="1.5" stroke-dasharray="6,3.5"/>
<line x1="1236.9" y1="601.8" x2="1236.9" y2="1003.9" stroke="#c8c8c8" stroke-width="1.5" stroke-dasharray="6,3.5"/>
<line x1="1344.1" y1="601.8" x2="1344.1" y2="1003.9" stroke="#c8c8c8" stroke-width="1.5" stroke-dasharray="6,3.5"/>
<polyline points="819.0,965.2 829.7,944.9 840.4,904.3 851.2,965.2 861.9,843.4 872.6,823.1 883.3,823.1 894.0,843.4 904.7,823.1 915.5,802.8 926.2,741.9 936.9,802.8 947.6,884.0 958.3,782.5 969.0,944.9 979.8,741.9 990.5,823.1 1001.2,843.4 1011.9,863.7 1022.6,762.2 1033.3,741.9 1044.1,762.2 1054.8,782.5 1065.5,721.7 1076.2,843.4 1086.9,823.1 1097.6,823.1 1108.3,843.4 1119.1,701.4 1129.8,762.2 1140.5,884.0 1151.2,721.7 1161.9,762.2 1172.6,741.9 1183.4,741.9 1194.1,802.8 1204.8,701.4 1215.5,782.5 1226.2,681.1 1236.9,701.4 1247.7,762.2 1258.4,823.1 1269.1,762.2 1279.8,721.7 1290.5,660.8 1301.2,640.5 1312.0,701.4 1322.7,762.2 1333.4,721.7 1344.1,741.9" fill="none" stroke="#24679c" stroke-width="2.0" stroke-linejoin="round" stroke-linecap="butt"/>
<polyline points="819.0,924.6 829.7,823.1 840.4,843.4 851.2,802.8 861.9,843.4 872.6,863.7 883.3,884.0 894.0,802.8 904.7,782.5 915.5,782.5 926.2,843.4 936.9,802.8 947.6,782.5 958.3,782.5 969.0,843.4 979.8,741.9 990.5,823.1 1001.2,681.1 1011.9,701.4 1022.6,802.8 1033.3,843.4 1044.1,782.5 1054.8,741.9 1065.5,762.2 1076.2,762.2 1086.9,681.1 1097.6,762.2 1108.3,802.8 1119.1,884.0 1129.8,843.4 1140.5,762.2 1151.2,782.5 1161.9,681.1 1172.6,782.5 1183.4,884.0 1194.1,843.4 1204.8,741.9 1215.5,802.8 1226.2,721.7 1236.9,681.1 1247.7,782.5 1258.4,741.9 1269.1,762.2 1279.8,762.2 1290.5,681.1 1301.2,782.5 1312.0,741.9 1322.7,762.2 1333.4,762.2 1344.1,721.7" fill="none" stroke="#ec8430" stroke-width="2.0" stroke-linejoin="round" stroke-linecap="butt"/>
<polyline points="819.0,985.5 829.7,904.3 840.4,904.3 851.2,823.1 861.9,782.5 872.6,762.2 883.3,802.8 894.0,782.5 904.7,762.2 915.5,721.7 926.2,762.2 936.9,782.5 947.6,701.4 958.3,741.9 969.0,741.9 979.8,681.1 990.5,681.1 1001.2,681.1 1011.9,762.2 1022.6,782.5 1033.3,701.4 1044.1,823.1 1054.8,620.2 1065.5,620.2 1076.2,762.2 1086.9,762.2 1097.6,701.4 1108.3,681.1 1119.1,721.7 1129.8,741.9 1140.5,741.9 1151.2,660.8 1161.9,762.2 1172.6,782.5 1183.4,721.7 1194.1,701.4 1204.8,741.9 1215.5,782.5 1226.2,701.4 1236.9,721.7 1247.7,660.8 1258.4,660.8 1269.1,620.2 1279.8,640.5 1290.5,721.7 1301.2,620.2 1312.0,701.4 1322.7,640.5 1333.4,660.8 1344.1,721.7" fill="none" stroke="#2e8535" stroke-width="2.0" stroke-linejoin="round" stroke-linecap="butt"/>
<rect x="800.2" y="609.7" width="125.0" height="68.7" rx="3" fill="#fff" fill-opacity="0.85" stroke="#cccccc" stroke-width="1.2"/>
<line x1="805.5" y1="621.7" x2="837.2" y2="621.7" stroke="#24679c" stroke-width="2.1"/>
<text x="847.8" y="627.0" font-size="14.50" text-anchor="start" fill="#111" style="font-family:'DejaVu Sans', 'Liberation Sans', sans-serif">Mobilenet</text>
<line x1="805.5" y1="643.2" x2="837.2" y2="643.2" stroke="#ec8430" stroke-width="2.1"/>
<text x="847.8" y="648.5" font-size="14.50" text-anchor="start" fill="#111" style="font-family:'DejaVu Sans', 'Liberation Sans', sans-serif">Resnet</text>
<line x1="805.5" y1="665.0" x2="837.2" y2="665.0" stroke="#2e8535" stroke-width="2.1"/>
<text x="847.8" y="670.3" font-size="14.50" text-anchor="start" fill="#111" style="font-family:'DejaVu Sans', 'Liberation Sans', sans-serif">Inception</text>
<rect x="792.4" y="601.8" width="578.1" height="402.1" fill="none" stroke="#161616" stroke-width="1.5"/>
<line x1="808.3" y1="1003.9" x2="808.3" y2="1008.9" stroke="#161616" stroke-width="1.5"/>
<line x1="915.5" y1="1003.9" x2="915.5" y2="1008.9" stroke="#161616" stroke-width="1.5"/>
<line x1="1022.6" y1="1003.9" x2="1022.6" y2="1008.9" stroke="#161616" stroke-width="1.5"/>
<line x1="1129.8" y1="1003.9" x2="1129.8" y2="1008.9" stroke="#161616" stroke-width="1.5"/>
<line x1="1236.9" y1="1003.9" x2="1236.9" y2="1008.9" stroke="#161616" stroke-width="1.5"/>
<line x1="1344.1" y1="1003.9" x2="1344.1" y2="1008.9" stroke="#161616" stroke-width="1.5"/>
<line x1="786.9" y1="997.7" x2="792.4" y2="997.7" stroke="#161616" stroke-width="1.5"/>
<line x1="786.9" y1="945.9" x2="792.4" y2="945.9" stroke="#161616" stroke-width="1.5"/>
<line x1="786.9" y1="894.2" x2="792.4" y2="894.2" stroke="#161616" stroke-width="1.5"/>
<line x1="786.9" y1="842.4" x2="792.4" y2="842.4" stroke="#161616" stroke-width="1.5"/>
<line x1="786.9" y1="790.7" x2="792.4" y2="790.7" stroke="#161616" stroke-width="1.5"/>
<line x1="786.9" y1="738.9" x2="792.4" y2="738.9" stroke="#161616" stroke-width="1.5"/>
<line x1="786.9" y1="687.2" x2="792.4" y2="687.2" stroke="#161616" stroke-width="1.5"/>
<line x1="786.9" y1="635.4" x2="792.4" y2="635.4" stroke="#161616" stroke-width="1.5"/>
<text x="809.8" y="1034.4" font-size="26.40" text-anchor="middle" fill="#161616" stroke="#161616" stroke-width="0.45">0</text>
<text x="917.0" y="1034.4" font-size="26.40" text-anchor="middle" fill="#161616" stroke="#161616" stroke-width="0.45">10</text>
<text x="1024.1" y="1034.4" font-size="26.40" text-anchor="middle" fill="#161616" stroke="#161616" stroke-width="0.45">20</text>
<text x="1131.3" y="1034.4" font-size="26.40" text-anchor="middle" fill="#161616" stroke="#161616" stroke-width="0.45">30</text>
<text x="1238.4" y="1034.4" font-size="26.40" text-anchor="middle" fill="#161616" stroke="#161616" stroke-width="0.45">40</text>
<text x="1345.6" y="1034.4" font-size="26.40" text-anchor="middle" fill="#161616" stroke="#161616" stroke-width="0.45">50</text>
<text x="785.3" y="1001.9" font-size="26.40" text-anchor="end" fill="#161616" stroke="#161616" stroke-width="0.45">0.40</text>
<text x="785.3" y="950.6" font-size="26.40" text-anchor="end" fill="#161616" stroke="#161616" stroke-width="0.45">0.45</text>
<text x="785.3" y="899.3" font-size="26.40" text-anchor="end" fill="#161616" stroke="#161616" stroke-width="0.45">0.50</text>
<text x="785.3" y="847.9" font-size="26.40" text-anchor="end" fill="#161616" stroke="#161616" stroke-width="0.45">0.55</text>
<text x="785.3" y="796.6" font-size="26.40" text-anchor="end" fill="#161616" stroke="#161616" stroke-width="0.45">0.60</text>
<text x="785.3" y="745.2" font-size="26.40" text-anchor="end" fill="#161616" stroke="#161616" stroke-width="0.45">0.65</text>
<text x="785.3" y="693.9" font-size="26.40" text-anchor="end" fill="#161616" stroke="#161616" stroke-width="0.45">0.70</text>
<text x="785.3" y="642.5" font-size="26.40" text-anchor="end" fill="#161616" stroke="#161616" stroke-width="0.45">0.75</text>
<text x="947.6" y="591.4" font-size="32.00" text-anchor="start" fill="#161616" stroke="#161616" stroke-width="0.45" textLength="267.9" lengthAdjust="spacingAndGlyphs">Validation accuracy</text>
<text x="721.8" y="799.0" font-size="32.00" text-anchor="middle" fill="#161616" stroke="#161616" stroke-width="0.45" textLength="125.0" lengthAdjust="spacingAndGlyphs" transform="rotate(-90 721.8 799.0)">Accuracy</text>
<text x="1082.3" y="1063.5" font-size="30.50" text-anchor="middle" fill="#161616" stroke="#161616" stroke-width="0.45" textLength="86.0" lengthAdjust="spacingAndGlyphs">Epoch</text>
<line x1="1603.9" y1="602.2" x2="1603.9" y2="1003.9" stroke="#c8c8c8" stroke-width="1.5" stroke-dasharray="6,3.5"/>
<line x1="1711.0" y1="602.2" x2="1711.0" y2="1003.9" stroke="#c8c8c8" stroke-width="1.5" stroke-dasharray="6,3.5"/>
<line x1="1818.2" y1="602.2" x2="1818.2" y2="1003.9" stroke="#c8c8c8" stroke-width="1.5" stroke-dasharray="6,3.5"/>
<line x1="1925.3" y1="602.2" x2="1925.3" y2="1003.9" stroke="#c8c8c8" stroke-width="1.5" stroke-dasharray="6,3.5"/>
<line x1="2032.5" y1="602.2" x2="2032.5" y2="1003.9" stroke="#c8c8c8" stroke-width="1.5" stroke-dasharray="6,3.5"/>
<polyline points="1507.4,959.2 1518.1,880.9 1528.8,985.3 1539.6,880.9 1550.3,933.1 1561.0,854.8 1571.7,880.9 1582.4,854.8 1593.1,776.5 1603.9,854.8 1614.6,750.4 1625.3,854.8 1636.0,724.3 1646.7,776.5 1657.4,854.8 1668.2,750.4 1678.9,802.6 1689.6,802.6 1700.3,802.6 1711.0,750.4 1721.7,802.6 1732.5,776.5 1743.2,802.6 1753.9,802.6 1764.6,880.9 1775.3,750.4 1786.0,750.4 1796.7,828.7 1807.5,750.4 1818.2,776.5 1828.9,880.9 1839.6,750.4 1850.3,776.5 1861.0,802.6 1871.8,854.8 1882.5,802.6 1893.2,750.4 1903.9,750.4 1914.6,828.7 1925.3,672.1 1936.1,776.5 1946.8,750.4 1957.5,880.9 1968.2,750.4 1978.9,750.4 1989.6,724.3 2000.4,724.3 2011.1,828.7 2021.8,776.5 2032.5,802.6" fill="none" stroke="#24679c" stroke-width="2.0" stroke-linejoin="round" stroke-linecap="butt"/>
<polyline points="1507.4,907.0 1518.1,880.9 1528.8,750.4 1539.6,750.4 1550.3,802.6 1561.0,698.2 1571.7,828.7 1582.4,724.3 1593.1,698.2 1603.9,672.1 1614.6,698.2 1625.3,724.3 1636.0,724.3 1646.7,698.2 1657.4,854.8 1668.2,750.4 1678.9,698.2 1689.6,646.0 1700.3,646.0 1711.0,776.5 1721.7,802.6 1732.5,646.0 1743.2,724.3 1753.9,646.0 1764.6,672.1 1775.3,672.1 1786.0,724.3 1796.7,698.2 1807.5,724.3 1818.2,698.2 1828.9,698.2 1839.6,672.1 1850.3,672.1 1861.0,672.1 1871.8,724.3 1882.5,724.3 1893.2,672.1 1903.9,724.3 1914.6,698.2 1925.3,672.1 1936.1,672.1 1946.8,698.2 1957.5,698.2 1968.2,724.3 1978.9,698.2 1989.6,698.2 2000.4,698.2 2011.1,672.1 2021.8,672.1 2032.5,672.1" fill="none" stroke="#ec8430" stroke-width="2.0" stroke-linejoin="round" stroke-linecap="butt"/>
<polyline points="1507.4,959.2 1518.1,880.9 1528.8,802.6 1539.6,724.3 1550.3,698.2 1561.0,646.0 1571.7,698.2 1582.4,802.6 1593.1,619.9 1603.9,698.2 1614.6,750.4 1625.3,646.0 1636.0,672.1 1646.7,698.2 1657.4,698.2 1668.2,724.3 1678.9,698.2 1689.6,724.3 1700.3,698.2 1711.0,750.4 1721.7,750.4 1732.5,776.5 1743.2,672.1 1753.9,724.3 1764.6,698.2 1775.3,646.0 1786.0,750.4 1796.7,672.1 1807.5,646.0 1818.2,672.1 1828.9,698.2 1839.6,750.4 1850.3,750.4 1861.0,750.4 1871.8,672.1 1882.5,698.2 1893.2,724.3 1903.9,828.7 1914.6,672.1 1925.3,750.4 1936.1,724.3 1946.8,646.0 1957.5,698.2 1968.2,724.3 1978.9,750.4 1989.6,724.3 2000.4,724.3 2011.1,698.2 2021.8,750.4 2032.5,724.3" fill="none" stroke="#2e8535" stroke-width="2.0" stroke-linejoin="round" stroke-linecap="butt"/>
<rect x="1925.6" y="926.6" width="125.7" height="69.4" rx="3" fill="#fff" fill-opacity="0.85" stroke="#cccccc" stroke-width="1.2"/>
<line x1="1930.8" y1="938.9" x2="1962.5" y2="938.9" stroke="#24679c" stroke-width="2.1"/>
<text x="1972.4" y="944.2" font-size="14.50" text-anchor="start" fill="#111" style="font-family:'DejaVu Sans', 'Liberation Sans', sans-serif">Mobilenet</text>
<line x1="1930.8" y1="960.7" x2="1962.5" y2="960.7" stroke="#ec8430" stroke-width="2.1"/>
<text x="1972.4" y="966.0" font-size="14.50" text-anchor="start" fill="#111" style="font-family:'DejaVu Sans', 'Liberation Sans', sans-serif">Resnet</text>
<line x1="1930.8" y1="982.6" x2="1962.5" y2="982.6" stroke="#2e8535" stroke-width="2.1"/>
<text x="1972.4" y="987.9" font-size="14.50" text-anchor="start" fill="#111" style="font-family:'DejaVu Sans', 'Liberation Sans', sans-serif">Inception</text>
<rect x="1481.2" y="602.2" width="577.8" height="401.7" fill="none" stroke="#161616" stroke-width="1.5"/>
<line x1="1496.7" y1="1003.9" x2="1496.7" y2="1008.9" stroke="#161616" stroke-width="1.5"/>
<line x1="1603.9" y1="1003.9" x2="1603.9" y2="1008.9" stroke="#161616" stroke-width="1.5"/>
<line x1="1711.0" y1="1003.9" x2="1711.0" y2="1008.9" stroke="#161616" stroke-width="1.5"/>
<line x1="1818.2" y1="1003.9" x2="1818.2" y2="1008.9" stroke="#161616" stroke-width="1.5"/>
<line x1="1925.3" y1="1003.9" x2="1925.3" y2="1008.9" stroke="#161616" stroke-width="1.5"/>
<line x1="2032.5" y1="1003.9" x2="2032.5" y2="1008.9" stroke="#161616" stroke-width="1.5"/>
<line x1="1475.7" y1="967.0" x2="1481.2" y2="967.0" stroke="#161616" stroke-width="1.5"/>
<line x1="1475.7" y1="900.5" x2="1481.2" y2="900.5" stroke="#161616" stroke-width="1.5"/>
<line x1="1475.7" y1="833.9" x2="1481.2" y2="833.9" stroke="#161616" stroke-width="1.5"/>
<line x1="1475.7" y1="767.4" x2="1481.2" y2="767.4" stroke="#161616" stroke-width="1.5"/>
<line x1="1475.7" y1="700.8" x2="1481.2" y2="700.8" stroke="#161616" stroke-width="1.5"/>
<line x1="1475.7" y1="634.3" x2="1481.2" y2="634.3" stroke="#161616" stroke-width="1.5"/>
<text x="1498.2" y="1034.4" font-size="26.40" text-anchor="middle" fill="#161616" stroke="#161616" stroke-width="0.45">0</text>
<text x="1605.4" y="1034.4" font-size="26.40" text-anchor="middle" fill="#161616" stroke="#161616" stroke-width="0.45">10</text>
<text x="1712.5" y="1034.4" font-size="26.40" text-anchor="middle" fill="#161616" stroke="#161616" stroke-width="0.45">20</text>
<text x="1819.7" y="1034.4" font-size="26.40" text-anchor="middle" fill="#161616" stroke="#161616" stroke-width="0.45">30</text>
<text x="1926.8" y="1034.4" font-size="26.40" text-anchor="middle" fill="#161616" stroke="#161616" stroke-width="0.45">40</text>
<text x="2034.0" y="1034.4" font-size="26.40" text-anchor="middle" fill="#161616" stroke="#161616" stroke-width="0.45">50</text>
<text x="1472.0" y="978.7" font-size="26.40" text-anchor="end" fill="#161616" stroke="#161616" stroke-width="0.45">0.70</text>
<text x="1472.0" y="911.9" font-size="26.40" text-anchor="end" fill="#161616" stroke="#161616" stroke-width="0.45">0.75</text>
<text x="1472.0" y="845.1" font-size="26.40" text-anchor="end" fill="#161616" stroke="#161616" stroke-width="0.45">0.80</text>
<text x="1472.0" y="778.2" font-size="26.40" text-anchor="end" fill="#161616" stroke="#161616" stroke-width="0.45">0.85</text>
<text x="1472.0" y="711.4" font-size="26.40" text-anchor="end" fill="#161616" stroke="#161616" stroke-width="0.45">0.90</text>
<text x="1472.0" y="644.5" font-size="26.40" text-anchor="end" fill="#161616" stroke="#161616" stroke-width="0.45">0.95</text>
<text x="1592.6" y="589.5" font-size="32.00" text-anchor="start" fill="#161616" stroke="#161616" stroke-width="0.45" textLength="352.3" lengthAdjust="spacingAndGlyphs">Top-3 validation accuracy</text>
<text x="1408.8" y="799.5" font-size="32.00" text-anchor="middle" fill="#161616" stroke="#161616" stroke-width="0.45" textLength="125.0" lengthAdjust="spacingAndGlyphs" transform="rotate(-90 1408.8 799.5)">Accuracy</text>
<text x="1770.6" y="1063.5" font-size="30.50" text-anchor="middle" fill="#161616" stroke="#161616" stroke-width="0.45" textLength="86.0" lengthAdjust="spacingAndGlyphs">Epoch</text>
<text x="2.5" y="1163.0" font-size="41.00" text-anchor="start" fill="#161616" stroke="#161616" stroke-width="0.45">c</text>
<polyline points="134.2,1355.8 143.0,1564.2 151.8,1629.3 160.5,1593.5 169.3,1617.9 178.1,1650.4 186.8,1624.4 195.6,1681.3 204.4,1614.6 213.2,1637.4 221.9,1674.8 230.7,1650.4 239.5,1626.0 248.3,1668.3 257.0,1691.1 265.8,1665.1 274.6,1671.6 283.4,1617.9 292.1,1709.0 300.9,1715.5 309.7,1699.2 318.5,1704.1 327.2,1689.5 336.0,1637.4 344.8,1702.5 353.6,1673.2 362.4,1694.4 371.1,1674.8 379.9,1707.4 388.7,1707.4 397.5,1720.4 406.2,1656.9 415.0,1692.7 423.8,1726.9 432.5,1702.5 441.3,1738.3 450.1,1709.0 458.9,1704.1 467.6,1717.1 476.4,1709.0 485.2,1718.8 494.0,1699.2 502.8,1694.4 511.5,1741.6 520.3,1735.1 529.1,1709.0 537.9,1686.2 546.6,1712.3 555.4,1704.1 564.2,1717.1" fill="none" stroke="#33943f" stroke-width="2.1" stroke-linejoin="round" stroke-linecap="butt"/>
<polyline points="134.2,1276.1 143.0,1489.3 151.8,1512.1 160.5,1582.1 169.3,1591.8 178.1,1621.1 186.8,1593.5 195.6,1627.6 204.4,1639.0 213.2,1650.4 221.9,1660.2 230.7,1661.8 239.5,1673.2 248.3,1687.9 257.0,1687.9 265.8,1686.2 274.6,1700.9 283.4,1700.9 292.1,1722.0 300.9,1720.4 309.7,1705.8 318.5,1728.5 327.2,1725.3 336.0,1720.4 344.8,1712.3 353.6,1728.5 362.4,1733.4 371.1,1733.4 379.9,1735.1 388.7,1735.1 397.5,1741.6 406.2,1743.2 415.0,1743.2 423.8,1743.2 432.5,1749.7 441.3,1733.4 450.1,1733.4 458.9,1748.1 467.6,1749.7 476.4,1754.6 485.2,1746.4 494.0,1749.7 502.8,1738.3 511.5,1739.9 520.3,1753.0 529.1,1749.7 537.9,1753.0 546.6,1746.4 555.4,1748.1 564.2,1756.2" fill="none" stroke="#a8104c" stroke-width="2.2" stroke-linejoin="round" stroke-linecap="butt" stroke-dasharray="2.8,1.4"/>
<rect x="112.8" y="1159.5" width="473.0" height="649.8" fill="none" stroke="#555" stroke-width="1.6"/>
<text x="134.2" y="1839.9" font-size="26.70" text-anchor="middle" fill="#161616" stroke="#161616" stroke-width="0.45">1</text>
<text x="169.3" y="1839.9" font-size="26.70" text-anchor="middle" fill="#161616" stroke="#161616" stroke-width="0.45">5</text>
<text x="204.4" y="1839.9" font-size="26.70" text-anchor="middle" fill="#161616" stroke="#161616" stroke-width="0.45">9</text>
<text x="239.5" y="1839.9" font-size="26.70" text-anchor="middle" fill="#161616" stroke="#161616" stroke-width="0.45">13</text>
<text x="274.6" y="1839.9" font-size="26.70" text-anchor="middle" fill="#161616" stroke="#161616" stroke-width="0.45">17</text>
<text x="309.7" y="1839.9" font-size="26.70" text-anchor="middle" fill="#161616" stroke="#161616" stroke-width="0.45">21</text>
<text x="344.8" y="1839.9" font-size="26.70" text-anchor="middle" fill="#161616" stroke="#161616" stroke-width="0.45">25</text>
<text x="379.9" y="1839.9" font-size="26.70" text-anchor="middle" fill="#161616" stroke="#161616" stroke-width="0.45">29</text>
<text x="415.0" y="1839.9" font-size="26.70" text-anchor="middle" fill="#161616" stroke="#161616" stroke-width="0.45">33</text>
<text x="450.1" y="1839.9" font-size="26.70" text-anchor="middle" fill="#161616" stroke="#161616" stroke-width="0.45">37</text>
<text x="485.2" y="1839.9" font-size="26.70" text-anchor="middle" fill="#161616" stroke="#161616" stroke-width="0.45">41</text>
<text x="520.3" y="1839.9" font-size="26.70" text-anchor="middle" fill="#161616" stroke="#161616" stroke-width="0.45">45</text>
<text x="555.4" y="1839.9" font-size="26.70" text-anchor="middle" fill="#161616" stroke="#161616" stroke-width="0.45">49</text>
<text x="107.1" y="1824.2" font-size="26.70" text-anchor="end" fill="#161616" stroke="#161616" stroke-width="0.45">0.0</text>
<text x="107.1" y="1661.7" font-size="26.70" text-anchor="end" fill="#161616" stroke="#161616" stroke-width="0.45">0.1</text>
<text x="107.1" y="1499.2" font-size="26.70" text-anchor="end" fill="#161616" stroke="#161616" stroke-width="0.45">0.2</text>
<text x="107.1" y="1336.7" font-size="26.70" text-anchor="end" fill="#161616" stroke="#161616" stroke-width="0.45">0.3</text>
<text x="107.1" y="1174.2" font-size="26.70" text-anchor="end" fill="#161616" stroke="#161616" stroke-width="0.45">0.4</text>
<text x="209.3" y="1144.8" font-size="32.30" text-anchor="start" fill="#161616" stroke="#161616" stroke-width="0.45" textLength="281.1" lengthAdjust="spacingAndGlyphs">Mean squared error</text>
<text x="59.8" y="1484.3" font-size="32.30" text-anchor="middle" fill="#161616" stroke="#161616" stroke-width="0.45" textLength="61.5" lengthAdjust="spacingAndGlyphs" transform="rotate(-90 59.8 1484.3)">MSQ</text>
<text x="349.5" y="1881.7" font-size="32.00" text-anchor="middle" fill="#161616" stroke="#161616" stroke-width="0.45" textLength="87.5" lengthAdjust="spacingAndGlyphs">Epoch</text>
<polyline points="701.5,1272.4 710.3,1372.8 719.1,1455.0 727.8,1399.2 736.6,1428.5 745.4,1435.5 754.1,1434.1 762.9,1496.8 771.7,1441.1 780.5,1441.1 789.2,1501.0 798.0,1446.6 806.8,1422.9 815.6,1488.4 824.4,1508.0 833.1,1480.1 841.9,1478.7 850.7,1414.6 859.5,1540.0 868.2,1533.0 877.0,1524.7 885.8,1542.8 894.6,1506.6 903.3,1484.3 912.1,1540.0 920.9,1491.2 929.7,1527.5 938.4,1496.8 947.2,1534.4 956.0,1531.7 964.8,1562.3 973.5,1502.4 982.3,1514.9 991.1,1551.2 999.9,1526.1 1008.6,1584.6 1017.4,1544.2 1026.2,1560.9 1035.0,1566.5 1043.7,1555.3 1052.5,1558.1 1061.3,1547.0 1070.0,1540.0 1078.8,1591.6 1087.6,1586.0 1096.4,1551.2 1105.2,1514.9 1113.9,1548.4 1122.7,1548.4 1131.5,1570.7" fill="none" stroke="#33943f" stroke-width="2.1" stroke-linejoin="round" stroke-linecap="butt"/>
<polyline points="701.5,1181.8 710.3,1329.6 719.1,1329.6 727.8,1397.9 736.6,1400.6 745.4,1432.7 754.1,1407.6 762.9,1432.7 771.7,1457.8 780.5,1463.4 789.2,1484.3 798.0,1471.7 806.8,1491.2 815.6,1508.0 824.4,1516.3 833.1,1502.4 841.9,1528.9 850.7,1524.7 859.5,1552.6 868.2,1558.1 877.0,1544.2 885.8,1562.3 894.6,1560.9 903.3,1556.7 912.1,1544.2 920.9,1566.5 929.7,1576.3 938.4,1573.5 947.2,1576.3 956.0,1572.1 964.8,1595.8 973.5,1591.6 982.3,1587.4 991.1,1587.4 999.9,1598.6 1008.6,1574.9 1017.4,1574.9 1026.2,1594.4 1035.0,1598.6 1043.7,1606.9 1052.5,1595.8 1061.3,1602.7 1070.0,1577.6 1078.8,1590.2 1087.6,1602.7 1096.4,1602.7 1105.2,1608.3 1113.9,1601.3 1122.7,1600.0 1131.5,1613.9" fill="none" stroke="#a8104c" stroke-width="2.2" stroke-linejoin="round" stroke-linecap="butt" stroke-dasharray="2.8,1.4"/>
<rect x="680.5" y="1159.5" width="472.6" height="649.8" fill="none" stroke="#555" stroke-width="1.6"/>
<text x="701.5" y="1839.9" font-size="26.70" text-anchor="middle" fill="#161616" stroke="#161616" stroke-width="0.45">1</text>
<text x="736.6" y="1839.9" font-size="26.70" text-anchor="middle" fill="#161616" stroke="#161616" stroke-width="0.45">5</text>
<text x="771.7" y="1839.9" font-size="26.70" text-anchor="middle" fill="#161616" stroke="#161616" stroke-width="0.45">9</text>
<text x="806.8" y="1839.9" font-size="26.70" text-anchor="middle" fill="#161616" stroke="#161616" stroke-width="0.45">13</text>
<text x="841.9" y="1839.9" font-size="26.70" text-anchor="middle" fill="#161616" stroke="#161616" stroke-width="0.45">17</text>
<text x="877.0" y="1839.9" font-size="26.70" text-anchor="middle" fill="#161616" stroke="#161616" stroke-width="0.45">21</text>
<text x="912.1" y="1839.9" font-size="26.70" text-anchor="middle" fill="#161616" stroke="#161616" stroke-width="0.45">25</text>
<text x="947.2" y="1839.9" font-size="26.70" text-anchor="middle" fill="#161616" stroke="#161616" stroke-width="0.45">29</text>
<text x="982.3" y="1839.9" font-size="26.70" text-anchor="middle" fill="#161616" stroke="#161616" stroke-width="0.45">33</text>
<text x="1017.4" y="1839.9" font-size="26.70" text-anchor="middle" fill="#161616" stroke="#161616" stroke-width="0.45">37</text>
<text x="1052.5" y="1839.9" font-size="26.70" text-anchor="middle" fill="#161616" stroke="#161616" stroke-width="0.45">41</text>
<text x="1087.6" y="1839.9" font-size="26.70" text-anchor="middle" fill="#161616" stroke="#161616" stroke-width="0.45">45</text>
<text x="1122.7" y="1839.9" font-size="26.70" text-anchor="middle" fill="#161616" stroke="#161616" stroke-width="0.45">49</text>
<text x="675.5" y="1821.1" font-size="26.70" text-anchor="end" fill="#161616" stroke="#161616" stroke-width="0.45">0.0</text>
<text x="675.5" y="1542.8" font-size="26.70" text-anchor="end" fill="#161616" stroke="#161616" stroke-width="0.45">0.2</text>
<text x="675.5" y="1264.4" font-size="26.70" text-anchor="end" fill="#161616" stroke="#161616" stroke-width="0.45">0.4</text>
<text x="772.7" y="1144.8" font-size="32.30" text-anchor="start" fill="#161616" stroke="#161616" stroke-width="0.45" textLength="290.2" lengthAdjust="spacingAndGlyphs">Mean absolute error</text>
<text x="631.9" y="1484.1" font-size="32.30" text-anchor="middle" fill="#161616" stroke="#161616" stroke-width="0.45" textLength="60.5" lengthAdjust="spacingAndGlyphs" transform="rotate(-90 631.9 1484.1)">MAE</text>
<text x="917.0" y="1881.7" font-size="32.00" text-anchor="middle" fill="#161616" stroke="#161616" stroke-width="0.45" textLength="87.5" lengthAdjust="spacingAndGlyphs">Epoch</text>
<rect x="299.7" y="1175.7" width="260.3" height="67.6" rx="3" fill="#fff" fill-opacity="1" stroke="#7a7a7a" stroke-width="1.5"/>
<line x1="307.9" y1="1192.1" x2="352.1" y2="1192.1" stroke="#c0134f" stroke-width="3" stroke-dasharray="12,5"/>
<line x1="307.9" y1="1223.3" x2="352.1" y2="1223.3" stroke="#3a9f48" stroke-width="3.5"/>
<text x="368.5" y="1199.7" font-size="20.00" text-anchor="start" fill="#161616" stroke="#161616" stroke-width="0.45" textLength="178.0" lengthAdjust="spacingAndGlyphs">Train EfficientNetb2</text>
<text x="368.5" y="1230.7" font-size="20.00" text-anchor="start" fill="#161616" stroke="#161616" stroke-width="0.45" textLength="161.0" lengthAdjust="spacingAndGlyphs">Val EfficientNetb2</text>
<text x="1201.0" y="1150.8" font-size="47.50" text-anchor="start" fill="#161616" stroke="#161616" stroke-width="0.45">d</text>
<rect x="1304.1" y="1162.8" width="680.2" height="317.8" fill="none" stroke="#6a6a6a" stroke-width="1.8"/>
<line x1="1334.2" y1="1458.7" x2="1953.3" y2="1184.7" stroke="#18708f" stroke-width="2.0" stroke-dasharray="7,3.5"/>
<line x1="1334.7" y1="1466.4" x2="1334.7" y2="1426.4" stroke="#18708f" stroke-width="1.9"/>
<line x1="1325.4" y1="1466.4" x2="1344.0" y2="1466.4" stroke="#18708f" stroke-width="1.9"/>
<line x1="1325.4" y1="1426.4" x2="1344.0" y2="1426.4" stroke="#18708f" stroke-width="1.9"/>
<circle cx="1334.7" cy="1446.6" r="4.7" fill="#2ba043"/>
<line x1="1396.6" y1="1430.2" x2="1396.6" y2="1362.8" stroke="#18708f" stroke-width="1.9"/>
<line x1="1387.3" y1="1430.2" x2="1405.9" y2="1430.2" stroke="#18708f" stroke-width="1.9"/>
<line x1="1387.3" y1="1362.8" x2="1405.9" y2="1362.8" stroke="#18708f" stroke-width="1.9"/>
<circle cx="1396.6" cy="1397.3" r="4.7" fill="#2ba043"/>
<line x1="1458.5" y1="1416.5" x2="1458.5" y2="1269.6" stroke="#18708f" stroke-width="1.9"/>
<line x1="1449.2" y1="1416.5" x2="1467.8" y2="1416.5" stroke="#18708f" stroke-width="1.9"/>
<line x1="1449.2" y1="1269.6" x2="1467.8" y2="1269.6" stroke="#18708f" stroke-width="1.9"/>
<circle cx="1458.5" cy="1342.5" r="4.7" fill="#2ba043"/>
<line x1="1644.2" y1="1337.0" x2="1644.2" y2="1289.9" stroke="#18708f" stroke-width="1.9"/>
<line x1="1635.0" y1="1337.0" x2="1653.5" y2="1337.0" stroke="#18708f" stroke-width="1.9"/>
<line x1="1635.0" y1="1289.9" x2="1653.5" y2="1289.9" stroke="#18708f" stroke-width="1.9"/>
<circle cx="1644.2" cy="1312.9" r="4.7" fill="#2ba043"/>
<line x1="1650.4" y1="1319.0" x2="1650.4" y2="1266.9" stroke="#18708f" stroke-width="1.9"/>
<line x1="1641.1" y1="1319.0" x2="1659.7" y2="1319.0" stroke="#18708f" stroke-width="1.9"/>
<line x1="1641.1" y1="1266.9" x2="1659.7" y2="1266.9" stroke="#18708f" stroke-width="1.9"/>
<circle cx="1650.4" cy="1292.1" r="4.7" fill="#2ba043"/>
<line x1="1953.8" y1="1245.0" x2="1953.8" y2="1178.1" stroke="#18708f" stroke-width="1.9"/>
<line x1="1944.5" y1="1245.0" x2="1963.1" y2="1245.0" stroke="#18708f" stroke-width="1.9"/>
<line x1="1944.5" y1="1178.1" x2="1963.1" y2="1178.1" stroke="#18708f" stroke-width="1.9"/>
<circle cx="1953.8" cy="1211.0" r="4.7" fill="#2ba043"/>
<text x="1334.2" y="1511.2" font-size="27.00" text-anchor="middle" fill="#161616" stroke="#161616" stroke-width="0.45">0</text>
<text x="1458.0" y="1511.2" font-size="27.00" text-anchor="middle" fill="#161616" stroke="#161616" stroke-width="0.45">1</text>
<text x="1581.8" y="1511.2" font-size="27.00" text-anchor="middle" fill="#161616" stroke="#161616" stroke-width="0.45">2</text>
<text x="1705.7" y="1511.2" font-size="27.00" text-anchor="middle" fill="#161616" stroke="#161616" stroke-width="0.45">3</text>
<text x="1829.5" y="1511.2" font-size="27.00" text-anchor="middle" fill="#161616" stroke="#161616" stroke-width="0.45">4</text>
<text x="1953.3" y="1511.2" font-size="27.00" text-anchor="middle" fill="#161616" stroke="#161616" stroke-width="0.45">5</text>
<text x="1289.6" y="1469.2" font-size="27.00" text-anchor="end" fill="#161616" stroke="#161616" stroke-width="0.45">0</text>
<text x="1289.6" y="1414.0" font-size="27.00" text-anchor="end" fill="#161616" stroke="#161616" stroke-width="0.45">1</text>
<text x="1289.6" y="1358.8" font-size="27.00" text-anchor="end" fill="#161616" stroke="#161616" stroke-width="0.45">2</text>
<text x="1289.6" y="1303.7" font-size="27.00" text-anchor="end" fill="#161616" stroke="#161616" stroke-width="0.45">3</text>
<text x="1289.6" y="1248.5" font-size="27.00" text-anchor="end" fill="#161616" stroke="#161616" stroke-width="0.45">4</text>
<text x="1289.6" y="1193.4" font-size="27.00" text-anchor="end" fill="#161616" stroke="#161616" stroke-width="0.45">5</text>
<text x="1233.3" y="1322.1" font-size="31.00" text-anchor="middle" fill="#161616" stroke="#161616" stroke-width="0.45" textLength="206.0" lengthAdjust="spacingAndGlyphs" transform="rotate(-90 1233.3 1322.1)">Pred IPTG (mM)</text>
<text x="1535.0" y="1551.3" font-size="30.00" text-anchor="start" fill="#161616" stroke="#161616" stroke-width="0.45" textLength="217.8" lengthAdjust="spacingAndGlyphs">True IPTG (mM)</text>
<rect x="1304.1" y="1591.9" width="680.2" height="318.2" fill="none" stroke="#6a6a6a" stroke-width="1.8"/>
<line x1="1334.2" y1="1853.5" x2="1953.3" y2="1614.6" stroke="#18708f" stroke-width="2.0" stroke-dasharray="7,3.5"/>
<line x1="1334.7" y1="1896.5" x2="1334.7" y2="1827.2" stroke="#18708f" stroke-width="1.9"/>
<line x1="1325.4" y1="1896.5" x2="1344.0" y2="1896.5" stroke="#18708f" stroke-width="1.9"/>
<line x1="1325.4" y1="1827.2" x2="1344.0" y2="1827.2" stroke="#18708f" stroke-width="1.9"/>
<circle cx="1334.7" cy="1861.9" r="4.7" fill="#2ba043"/>
<line x1="1489.5" y1="1828.4" x2="1489.5" y2="1765.1" stroke="#18708f" stroke-width="1.9"/>
<line x1="1480.2" y1="1828.4" x2="1498.8" y2="1828.4" stroke="#18708f" stroke-width="1.9"/>
<line x1="1480.2" y1="1765.1" x2="1498.8" y2="1765.1" stroke="#18708f" stroke-width="1.9"/>
<circle cx="1489.5" cy="1797.4" r="4.7" fill="#2ba043"/>
<line x1="1644.2" y1="1743.6" x2="1644.2" y2="1713.7" stroke="#18708f" stroke-width="1.9"/>
<line x1="1635.0" y1="1743.6" x2="1653.5" y2="1743.6" stroke="#18708f" stroke-width="1.9"/>
<line x1="1635.0" y1="1713.7" x2="1653.5" y2="1713.7" stroke="#18708f" stroke-width="1.9"/>
<circle cx="1644.2" cy="1728.1" r="4.7" fill="#2ba043"/>
<line x1="1953.8" y1="1709.0" x2="1953.8" y2="1606.2" stroke="#18708f" stroke-width="1.9"/>
<line x1="1944.5" y1="1709.0" x2="1963.1" y2="1709.0" stroke="#18708f" stroke-width="1.9"/>
<line x1="1944.5" y1="1606.2" x2="1963.1" y2="1606.2" stroke="#18708f" stroke-width="1.9"/>
<circle cx="1953.8" cy="1657.6" r="4.7" fill="#2ba043"/>
<text x="1334.2" y="1939.7" font-size="27.00" text-anchor="middle" fill="#161616" stroke="#161616" stroke-width="0.45">0.000</text>
<text x="1411.6" y="1939.7" font-size="27.00" text-anchor="middle" fill="#161616" stroke="#161616" stroke-width="0.45">0.025</text>
<text x="1489.0" y="1939.7" font-size="27.00" text-anchor="middle" fill="#161616" stroke="#161616" stroke-width="0.45">0.050</text>
<text x="1566.4" y="1939.7" font-size="27.00" text-anchor="middle" fill="#161616" stroke="#161616" stroke-width="0.45">0.075</text>
<text x="1643.8" y="1939.7" font-size="27.00" text-anchor="middle" fill="#161616" stroke="#161616" stroke-width="0.45">0.100</text>
<text x="1721.1" y="1939.7" font-size="27.00" text-anchor="middle" fill="#161616" stroke="#161616" stroke-width="0.45">0.125</text>
<text x="1798.5" y="1939.7" font-size="27.00" text-anchor="middle" fill="#161616" stroke="#161616" stroke-width="0.45">0.150</text>
<text x="1875.9" y="1939.7" font-size="27.00" text-anchor="middle" fill="#161616" stroke="#161616" stroke-width="0.45">0.175</text>
<text x="1953.3" y="1939.7" font-size="27.00" text-anchor="middle" fill="#161616" stroke="#161616" stroke-width="0.45">0.200</text>
<text x="1297.3" y="1861.8" font-size="27.00" text-anchor="end" fill="#161616" stroke="#161616" stroke-width="0.45">0.00</text>
<text x="1297.3" y="1802.4" font-size="27.00" text-anchor="end" fill="#161616" stroke="#161616" stroke-width="0.45">0.05</text>
<text x="1297.3" y="1743.0" font-size="27.00" text-anchor="end" fill="#161616" stroke="#161616" stroke-width="0.45">0.10</text>
<text x="1297.3" y="1683.5" font-size="27.00" text-anchor="end" fill="#161616" stroke="#161616" stroke-width="0.45">0.15</text>
<text x="1297.3" y="1624.2" font-size="27.00" text-anchor="end" fill="#161616" stroke="#161616" stroke-width="0.45">0.20</text>
<text x="1233.3" y="1751.1" font-size="31.00" text-anchor="middle" fill="#161616" stroke="#161616" stroke-width="0.45" textLength="169.0" lengthAdjust="spacingAndGlyphs" transform="rotate(-90 1233.3 1751.1)">Pred Ara. (%)</text>
<text x="1554.6" y="1980.5" font-size="30.00" text-anchor="start" fill="#161616" stroke="#161616" stroke-width="0.45" textLength="178.8" lengthAdjust="spacingAndGlyphs">True Ara. (%)</text>
</svg>
</body></html>
